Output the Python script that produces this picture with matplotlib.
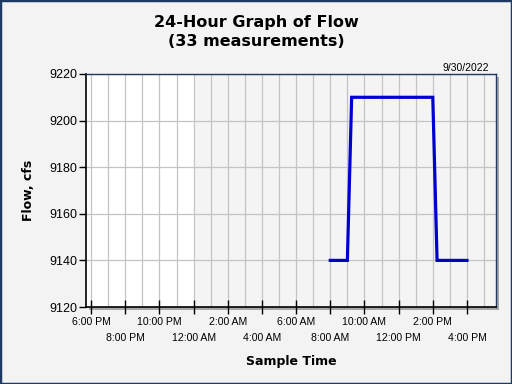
import matplotlib
matplotlib.use("Agg")
import matplotlib.pyplot as plt
import matplotlib.dates as mdates
from matplotlib.patches import Rectangle
from matplotlib.ticker import FixedLocator, FixedFormatter
from datetime import datetime

# data: 33 measurements on 9/30/2022
times = ["08:00", "08:15", "08:30", "08:45", "09:00",
         "09:15", "09:30", "09:45", "10:00", "10:15", "10:30", "10:45",
         "11:00", "11:15", "11:30", "11:45", "12:00", "12:15", "12:30",
         "12:45", "13:00", "13:15", "13:30", "13:45", "14:00",
         "14:15", "14:30", "14:45", "15:00", "15:15", "15:30", "15:45", "16:00"]
flow = [9140, 9140, 9140, 9140, 9140,
        9210, 9210, 9210, 9210, 9210, 9210, 9210,
        9210, 9210, 9210, 9210, 9210, 9210, 9210,
        9210, 9210, 9210, 9210, 9210, 9210,
        9140, 9140, 9140, 9140, 9140, 9140, 9140, 9140]

tick_times = ["2022-09-29 18:00", "2022-09-29 20:00", "2022-09-29 22:00",
              "2022-09-30 00:00", "2022-09-30 02:00", "2022-09-30 04:00",
              "2022-09-30 06:00", "2022-09-30 08:00", "2022-09-30 10:00",
              "2022-09-30 12:00", "2022-09-30 14:00", "2022-09-30 16:00"]
tick_labels = ["6:00 PM", "8:00 PM", "10:00 PM", "12:00 AM", "2:00 AM",
               "4:00 AM", "6:00 AM", "8:00 AM", "10:00 AM", "12:00 PM",
               "2:00 PM", "4:00 PM"]
y_ticks = [9120, 9140, 9160, 9180, 9200, 9220]

x_start = datetime(2022, 9, 29, 17, 42)
x_end = datetime(2022, 9, 30, 17, 42)
midnight = datetime(2022, 9, 30, 0, 0)

x = [datetime.strptime("2022-09-30 " + t, "%Y-%m-%d %H:%M") for t in times]
tx = [mdates.date2num(datetime.strptime(t, "%Y-%m-%d %H:%M")) for t in tick_times]

fig = plt.figure(figsize=(5.12, 3.84), dpi=100, facecolor="#f3f3f3")

# shadow behind the plot area
shadow = fig.add_axes([89/512, 1-310/384, 410/512, 233/384], zorder=0)
shadow.set_facecolor("#a8a8a8")
shadow.set_xticks([])
shadow.set_yticks([])
for s in shadow.spines.values():
    s.set_visible(False)

ax = fig.add_axes([86/512, 1-307/384, 410/512, 233/384], zorder=2)
ax.set_facecolor("#f4f4f4")

ax.axvspan(x_start, midnight, color="white", zorder=0)
ax.plot(x, flow, color="#0000d0", lw=2.3, zorder=3, solid_joinstyle="miter")

ax.set_xlim(x_start, x_end)
ax.set_ylim(9120, 9220)
ax.set_yticks(y_ticks)
# first row of labels on the main axis, second row on a secondary axis
ax.xaxis.set_major_locator(FixedLocator(tx))
ax.xaxis.set_major_formatter(FixedFormatter(
    [lab if i % 2 == 0 else "" for i, lab in enumerate(tick_labels)]))
ax.xaxis.set_minor_locator(mdates.HourLocator())

sec = ax.secondary_xaxis("bottom")
sec.set_xticks(tx[1::2])
sec.set_xticklabels(tick_labels[1::2])
sec.tick_params(length=0, pad=19, labelsize=7.6)
sec.spines["bottom"].set_visible(False)

ax.grid(True, which="both", color="#c4c4c4", lw=0.9, zorder=1)
ax.set_axisbelow(True)

ax.tick_params(axis="x", which="major", direction="inout", length=10, width=1,
               labelsize=7.6, pad=2, colors="black")
ax.tick_params(axis="x", which="minor", length=0)
ax.tick_params(axis="y", direction="out", length=5, width=1, labelsize=9, pad=1)
for lab in ax.get_xticklabels() + ax.get_yticklabels() + sec.get_xticklabels():
    lab.set_fontfamily("Liberation Sans")

for s in ["top", "right"]:
    ax.spines[s].set_color("#1f3864")
    ax.spines[s].set_linewidth(1)
for s in ["left", "bottom"]:
    ax.spines[s].set_color("black")
    ax.spines[s].set_linewidth(1.2)

fig.text(0.5, 1-22/384, "24-Hour Graph of Flow", ha="center", va="center",
         fontsize=11.5, fontweight="bold", family="DejaVu Sans")
fig.text(0.5, 1-42/384, "(33 measurements)", ha="center", va="center",
         fontsize=11.5, fontweight="bold", family="DejaVu Sans")
fig.text(489/512, 1-68/384, "9/30/2022", ha="right", va="center",
         fontsize=7.5, family="Liberation Sans")
fig.text(291/512, 1-362/384, "Sample Time", ha="center", va="center",
         fontsize=9, fontweight="bold", family="DejaVu Sans")
fig.text(28/512, 1-190/384, "Flow, cfs", ha="center", va="center",
         rotation=90, fontsize=9, fontweight="bold", family="DejaVu Sans")

# outer border
fig.patches.append(Rectangle((0, 0), 1, 1, transform=fig.transFigure,
                             facecolor="none", edgecolor="#1f3864", lw=2.5,
                             zorder=10))

fig.savefig("out.png", dpi=100, facecolor=fig.get_facecolor())
